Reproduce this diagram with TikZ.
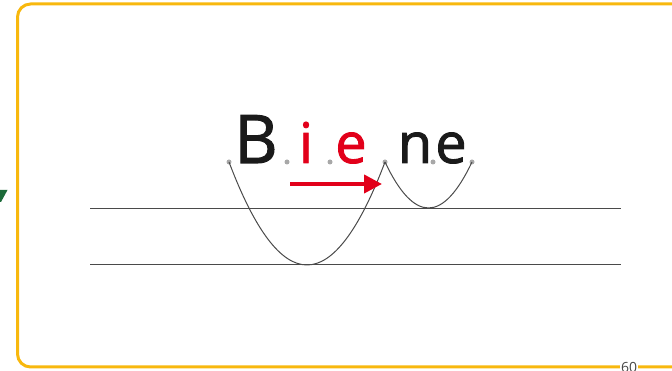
\documentclass[tikz,border=0pt]{standalone}
\usepackage{fontspec}
\setmainfont{Open Sans}
\newfontfamily\lettfont[FakeBold=1.6]{Open Sans}
\usetikzlibrary{arrows.meta}
\definecolor{frameY}{HTML}{F8B80E}
\definecolor{redL}{HTML}{E2001A}
\definecolor{greenT}{HTML}{1D6B3A}
\definecolor{dotG}{HTML}{A8A8A8}
\definecolor{lineG}{HTML}{4A4A4A}
\definecolor{txt}{HTML}{1A1A1A}
\tikzset{
  big/.style={inner sep=0pt, anchor=base, font=\lettfont\fontsize{67}{67}\selectfont},
  small/.style={inner sep=0pt, anchor=base, font=\lettfont\fontsize{56}{56}\selectfont},
  syl/.style={circle, fill=dotG, inner sep=0pt, minimum size=5pt},
  guide/.style={draw=lineG, line width=1pt},
  bow/.style={draw=lineG, line width=1pt},
}
\begin{document}
\begin{tikzpicture}[x=1pt,y=1pt]
\useasboundingbox (0,0) rectangle (672,371);
% frame
\draw[frameY, line width=3pt, rounded corners=13pt] (17.5,4) rectangle (700,367);
\node[fill=white, inner sep=1pt, anchor=base, font=\fontsize{14}{14}\selectfont, text=txt!80] (pg) at (629,-2) {60};
% green marker
\fill[greenT] (0,181) -- (7.5,181) -- (1,169) -- (0,169) -- cycle;
% guide lines
\coordinate (l1a) at (90,162); \coordinate (l1b) at (621,162);
\coordinate (l2a) at (90,106); \coordinate (l2b) at (621,106);
\draw[guide] (l1a) -- (l1b);
\draw[guide] (l2a) -- (l2b);
% letters
\node[big, text=txt] (B) at (256,208) {B};
\node[small, text=redL] (i) at (306,208) {i};
\node[small, text=redL] (e1) at (351,208) {e};
\node[small, text=txt] (n) at (415,208) {n};
\node[small, text=txt] (e2) at (451,208) {e};
% dots
\node[syl] (d1) at (229,209) {};
\node[syl] (d2) at (287,209) {};
\node[syl] (d3) at (330,209) {};
\node[syl] (d4) at (385,209) {};
\node[syl] (d5) at (433,209) {};
\node[syl] (d6) at (472,209) {};
% arcs
\draw[bow] (d1.center) .. controls (281,71.7) and (333,71.7) .. (d4.center);
\draw[bow] (d4.center) .. controls (414,147.7) and (443,147.7) .. (d6.center);
% arrow
\coordinate (a1) at (290,187);
\coordinate (a2) at (382,187);
\draw[redL, line width=4pt, -{Triangle[length=18pt,width=18pt]}] (a1) -- (a2);
\end{tikzpicture}
\end{document}
